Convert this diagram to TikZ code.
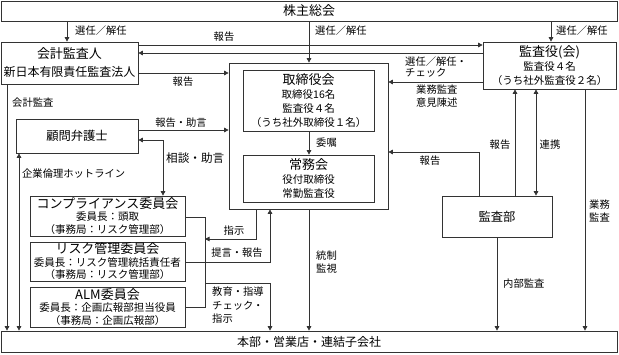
\documentclass[tikz,border=0pt]{standalone}
\usepackage{fontspec}
\setmainfont{Noto Sans CJK JP}
\usetikzlibrary{arrows.meta}
\newcommand\Hfont{\fontsize{13}{15}\selectfont}
\newcommand\Mfont{\fontsize{12}{18}\selectfont}
\newcommand\Tfont{\fontsize{10.5}{14}\selectfont}
\begin{document}
\begin{tikzpicture}[x=1pt,y=-1pt,
 box/.style={draw=black!80, line width=0.7pt, rectangle, inner sep=0pt, align=center, font=\Tfont},
 ln/.style={draw=black!80, line width=0.7pt},
 arr/.style={ln, -{Triangle[length=4.5pt,width=4.5pt]}},
 darr/.style={ln, {Triangle[length=4.5pt,width=4.5pt]}-{Triangle[length=4.5pt,width=4.5pt]}},
 lab/.style={inner sep=0pt, font=\fontsize{10.3}{13.5}\selectfont, align=left},
]
\useasboundingbox (0,0) rectangle (619,354);

% boxes
\node[box, minimum width=616pt, minimum height=20pt] (sh) at (309,11) {\Hfont 株主総会};
\node[box, minimum width=137pt, minimum height=42pt, font=\Mfont] (ka) at (69.5,63) {{\fontsize{13}{18}\selectfont 会計監査人}\\新日本有限責任監査法人};
\node[box, minimum width=133pt, minimum height=47pt] (kan) at (549.5,65.5) {{\Hfont 監査役(会)}\\監査役４名\\（うち社外監査役２名）};
\node[box, minimum width=159pt, minimum height=146pt] (bd) at (308.5,136) {};
\node[box, minimum width=131pt, minimum height=61pt] (tr) at (308.5,100.5) {{\Hfont 取締役会}\\取締役16名\\監査役４名\\（うち社外取締役１名）};
\node[box, minimum width=131pt, minimum height=47pt] (jm) at (308.5,178.5) {{\Hfont 常務会}\\役付取締役\\常勤監査役};
\node[box, minimum width=122pt, minimum height=34pt] (km) at (77,136) {\fontsize{12.3}{14}\selectfont 顧問弁護士};
\node[box, minimum width=110pt, minimum height=41pt] (ca) at (497,216.5) {\fontsize{12.3}{14}\selectfont 監査部};
\node[box, minimum width=155pt, minimum height=40pt, font={\fontsize{10.5}{12.5}\selectfont}] (cp) at (107.5,216) {{\Hfont コンプライアンス委員会}\\委員長：頭取\\（事務局：リスク管理部）};
\node[box, minimum width=155pt, minimum height=39pt, font={\fontsize{10.5}{12.5}\selectfont}] (rk) at (107.5,261.5) {{\Hfont リスク管理委員会}\\委員長：リスク管理統括責任者\\（事務局：リスク管理部）};
\node[box, minimum width=155pt, minimum height=40pt, font={\fontsize{10.5}{12.5}\selectfont}] (alm) at (107.5,307) {{\Hfont ALM委員会}\\委員長：企画広報部担当役員\\（事務局：企画広報部）};
\node[box, minimum width=616pt, minimum height=21pt] (hb) at (309,341.5) {\fontsize{12}{14}\selectfont 本部・営業店・連結子会社};

% shareholders' appointments
\draw[arr] (sh.south -| 67,0) -- (ka.north -| 67,0);
\node[lab, anchor=west] at (75,31) {選任／解任};
\draw[arr] (sh.south -| 309,0) -- (bd.north -| 309,0);
\node[lab, anchor=west] at (315,31) {選任／解任};
\draw[arr] (sh.south -| 551,0) -- (kan.north -| 551,0);
\node[lab, anchor=west] at (556,31) {選任／解任};

% accounting auditor
\draw[arr] (ka.east |- 0,45) -- (kan.west |- 0,45);
\node[lab] at (224,37) {報告};
\draw[arr] (kan.west |- 0,53) -- (ka.east |- 0,53);
\draw[arr] (ka.east |- 0,73) -- (bd.west |- 0,73);
\node[lab] at (183,82) {報告};
\draw[arr] (ka.south -| 7,0) -- (hb.north -| 7,0);
\node[lab, anchor=west] at (12,103) {会計監査};

% auditors -> board
\draw[arr] (kan.west |- 0,82) -- (bd.east |- 0,82);
\node[lab, anchor=west] at (405,62) {選任／解任・};
\node[lab, anchor=west] at (405,73) {チェック};
\node[lab, anchor=west] at (416,90) {業務監査};
\node[lab, anchor=west] at (416,103) {意見陳述};

% legal counsel
\draw[arr] (km.east |- 0,130) -- (bd.west |- 0,130);
\node[lab] at (181,123) {報告・助言};
\draw[darr] (km.east |- 0,140) -- (163,140) -- (cp.north -| 163,0);
\node[lab, anchor=west, font=\fontsize{11.6}{14}\selectfont] at (166,158) {相談・助言};
\draw[darr] (km.south -| 19,0) -- (hb.north -| 19,0);
\node[lab, anchor=west] at (22,174) {企業倫理ホットライン};

% board internal
\draw[arr] (tr.south -| 309,0) -- (jm.north -| 309,0);
\node[lab, anchor=west] at (316,143) {委嘱};
\draw[arr] (bd.south -| 309,0) -- (hb.north -| 309,0);
\node[lab, anchor=west] at (316,262) {統制\\監視};

% audit department
\draw[arr] (ca.north -| 515,0) -- (kan.south -| 515,0);
\node[lab] at (500,145) {報告};
\draw[darr] (kan.south -| 536,0) -- (ca.north -| 536,0);
\node[lab] at (550,145) {連携};
\draw[arr] (kan.south -| 585,0) -- (hb.north -| 585,0);
\node[lab, anchor=west] at (589,211) {業務\\監査};
\draw[arr] (ca.north -| 479,0) -- (479,152) -- (bd.east |- 0,152);
\node[lab] at (430,161) {報告};
\draw[arr] (ca.south -| 497,0) -- (hb.north -| 497,0);
\node[lab, anchor=west] at (503,284) {内部監査};

% committees
\coordinate (busS) at (205,239);
\coordinate (busE) at (205,283);
\draw[ln] (cp.east |- 0,217) -- (205,217) -- (205,307) -- (alm.east |- 0,307);
\draw[arr] (bd.south -| 256,0) -- (256,239) -- (busS);
\node[lab] at (234,231) {指示};
\draw[arr] (rk.east |- 0,262) -- (270,262) -- (bd.south -| 270,0);
\node[lab] at (237,253) {提言・報告};
\draw[arr] (busE) -- (270,283) -- (hb.north -| 270,0);
\node[lab, anchor=north west] at (212,287) {教育・指導\\チェック・\\指示};
\end{tikzpicture}
\end{document}
